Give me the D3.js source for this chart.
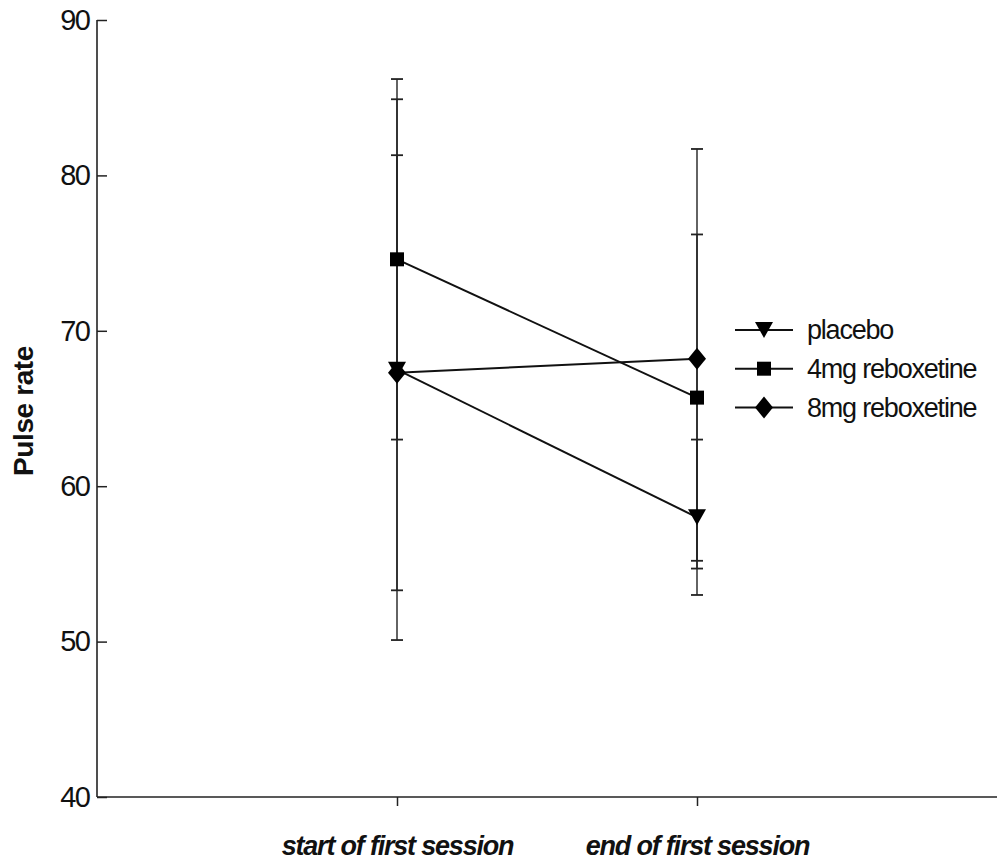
<!DOCTYPE html>
<html>
<head>
<meta charset="utf-8">
<script src="https://cdn.jsdelivr.net/npm/d3@7"></script>
<style>
  html, body { margin: 0; padding: 0; background: #fff; }
  svg { display: block; font-family: "Liberation Sans", Arial, sans-serif; }
</style>
</head>
<body>
<svg id="chart" width="997" height="862"></svg>
<script>
// Time points on the x axis
const sessions = ["start of first session", "end of first session"];

// Mean pulse rate per group at each time point
const groups = ["placebo", "4mg reboxetine", "8mg reboxetine"];
const placeboMean = [67.5, 58.0];
const mg4Mean = [74.6, 65.7];
const mg8Mean = [67.3, 68.2];

// Error bar half-widths (± spread) per group at each time point
const placeboErr = [17.4, 5.0];
const mg4Err = [11.6, 10.5];
const mg8Err = [14.0, 13.5];

// Y axis ticks
const yTicks = [40, 50, 60, 70, 80, 90];

const series = [
  { name: groups[0], mean: placeboMean, err: placeboErr, shape: "triangleDown" },
  { name: groups[1], mean: mg4Mean, err: mg4Err, shape: "square" },
  { name: groups[2], mean: mg8Mean, err: mg8Err, shape: "diamond" }
];

const svg = d3.select("#chart");
const margin = { left: 97, top: 20, bottom: 797, right: 997 };

const x = d3.scaleLinear().domain([0, 3]).range([margin.left, margin.right]);
const y = d3.scaleLinear().domain([40, 90]).range([margin.bottom, margin.top]);

// Marker shapes
const triangleDown = {
  draw(ctx, size) {
    const w = 9, h = 16;
    ctx.moveTo(-w, -h / 2);
    ctx.lineTo(w, -h / 2);
    ctx.lineTo(0, h / 2);
    ctx.closePath();
  }
};
const square = {
  draw(ctx, size) {
    const s = 7;
    ctx.rect(-s, -s, 2 * s, 2 * s);
  }
};
const diamond = {
  draw(ctx, size) {
    const w = 9, h = 11;
    ctx.moveTo(0, -h);
    ctx.lineTo(w, 0);
    ctx.lineTo(0, h);
    ctx.lineTo(-w, 0);
    ctx.closePath();
  }
};
const shapes = { triangleDown, square, diamond };
const symbolPath = s => d3.symbol().type(shapes[s])();

// Axes
const yAxis = d3.axisLeft(y).tickValues(yTicks).tickSize(-10).tickPadding(10);
const gy = svg.append("g").attr("transform", `translate(${margin.left},0)`).call(yAxis);
gy.select(".domain").attr("d", `M0,${margin.top}V${margin.bottom}`).attr("stroke", "#222").attr("stroke-width", 1.6);
gy.selectAll(".tick line").attr("stroke", "#222").attr("stroke-width", 1.5);
gy.selectAll(".tick text")
  .attr("x", -8)
  .attr("font-size", 29)
  .attr("letter-spacing", -1.8)
  .attr("fill", "#111")
  .attr("font-family", "Liberation Sans, Arial, sans-serif");

const xAxis = d3.axisBottom(x).tickValues([1, 2]).tickSize(9).tickFormat(d => sessions[d - 1]).tickPadding(30);
const gx = svg.append("g").attr("transform", `translate(0,${margin.bottom})`).call(xAxis);
gx.select(".domain").attr("d", `M${margin.left},0H${margin.right}`).attr("stroke", "#222").attr("stroke-width", 1.6);
gx.selectAll(".tick line").attr("stroke", "#222").attr("stroke-width", 1.5);
gx.selectAll(".tick text")
  .attr("font-size", 27)
  .attr("font-weight", "bold")
  .attr("font-style", "italic")
  .attr("letter-spacing", -1.2)
  .attr("fill", "#111")
  .attr("font-family", "Liberation Sans, Arial, sans-serif");

// Y axis title
svg.append("text")
  .attr("transform", `translate(33,411) rotate(-90)`)
  .attr("text-anchor", "middle")
  .attr("font-size", 28)
  .attr("font-weight", "bold")
  .attr("letter-spacing", -0.4)
  .attr("fill", "#111")
  .text("Pulse rate");

// Error bars
const capHalf = 6;
series.forEach(s => {
  const g = svg.append("g");
  s.mean.forEach((m, i) => {
    const cx = x(i + 1);
    const lo = m - s.err[i], hi = m + s.err[i];
    g.append("line").attr("x1", cx).attr("x2", cx).attr("y1", y(lo)).attr("y2", y(hi))
      .attr("stroke", "#222").attr("stroke-width", 1.4);
    [lo, hi].forEach(v => {
      g.append("line").attr("x1", cx - capHalf).attr("x2", cx + capHalf).attr("y1", y(v)).attr("y2", y(v))
        .attr("stroke", "#222").attr("stroke-width", 1.8);
    });
  });
});

// Connecting lines and markers
const line = d3.line().x((d, i) => x(i + 1)).y(d => y(d));
series.forEach(s => {
  svg.append("path").attr("d", line(s.mean)).attr("fill", "none").attr("stroke", "#111").attr("stroke-width", 2);
  s.mean.forEach((m, i) => {
    svg.append("path").attr("d", symbolPath(s.shape))
      .attr("transform", `translate(${x(i + 1)},${y(m)})`)
      .attr("fill", "#000");
  });
});

// Legend
const legend = svg.append("g").attr("transform", "translate(735,330)");
series.forEach((s, i) => {
  const row = legend.append("g").attr("transform", `translate(0,${i * 38.7})`);
  row.append("line").attr("x1", 0).attr("x2", 58).attr("y1", 0).attr("y2", 0).attr("stroke", "#111").attr("stroke-width", 2);
  row.append("path").attr("d", symbolPath(s.shape)).attr("transform", "translate(29,0)").attr("fill", "#000");
  row.append("text").attr("x", 72).attr("y", 0).attr("dy", "0.35em")
    .attr("font-size", 27).attr("letter-spacing", -1.2).attr("fill", "#111")
    .text(s.name);
});
</script>
</body>
</html>
